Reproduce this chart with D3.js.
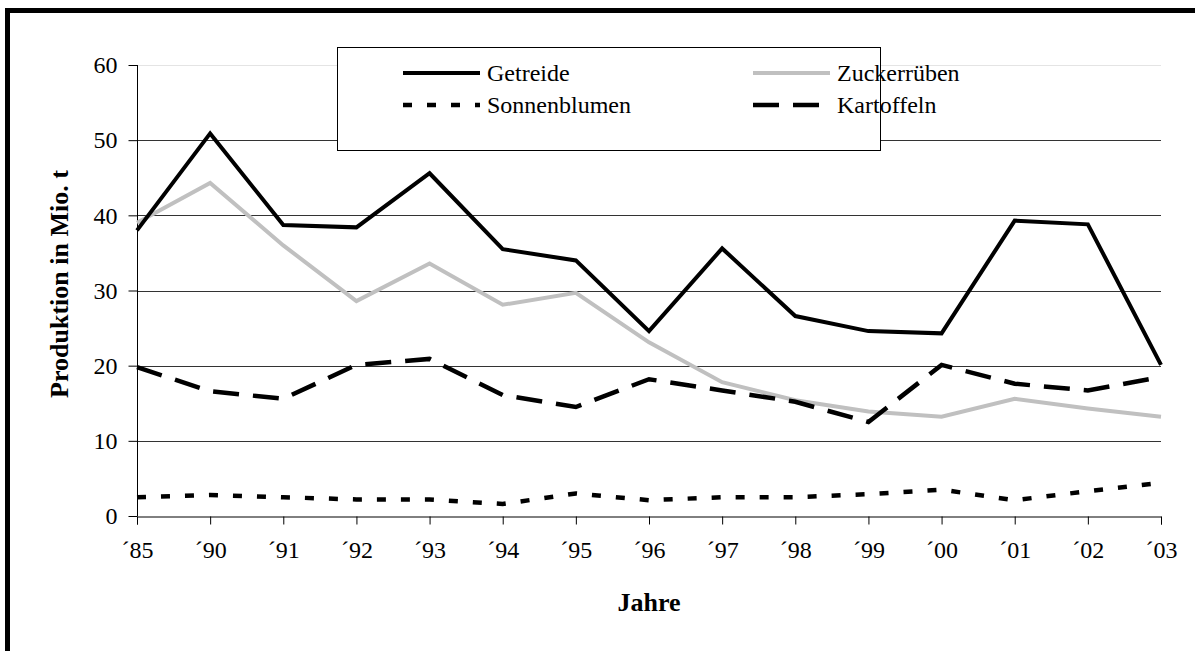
<!DOCTYPE html>
<html>
<head>
<meta charset="utf-8">
<script src="https://cdn.jsdelivr.net/npm/d3@7"></script>
<style>
  body { margin: 0; background: #fff; }
  svg { display: block; font-family: "Liberation Serif", "Times New Roman", serif; }
</style>
</head>
<body>
<div id="chart"></div>
<script>
// Jahre und Produktion (Mio. t)
var years = ["´85", "´90", "´91", "´92", "´93", "´94", "´95", "´96", "´97", "´98", "´99", "´00", "´01", "´02", "´03"];
var getreide = [38.0, 50.9, 38.7, 38.4, 45.6, 35.5, 34.0, 24.6, 35.6, 26.6, 24.6, 24.3, 39.3, 38.8, 20.1];
var zuckerrueben = [39.0, 44.3, 36.0, 28.6, 33.6, 28.1, 29.7, 23.1, 17.8, 15.4, 13.9, 13.2, 15.6, 14.3, 13.2];
var sonnenblumen = [2.5, 2.8, 2.5, 2.2, 2.2, 1.6, 3.0, 2.1, 2.5, 2.5, 2.9, 3.5, 2.1, 3.3, 4.4];
var kartoffeln = [19.8, 16.6, 15.6, 20.1, 20.9, 16.1, 14.5, 18.2, 16.7, 15.2, 12.5, 20.1, 17.6, 16.7, 18.5];
var yTicks = [0, 10, 20, 30, 40, 50, 60];

var width = 1195, height = 651;
var margin = {left: 137, right: 34, top: 65, bottom: 135};

var svg = d3.select("#chart").append("svg")
    .attr("width", width)
    .attr("height", height);

// outer frame
svg.append("rect")
    .attr("x", 7.5).attr("y", 10.5)
    .attr("width", 1200).attr("height", 700)
    .attr("fill", "none").attr("stroke", "#000").attr("stroke-width", 5);

var x = d3.scalePoint().domain(years).range([margin.left, width - margin.right]);
var y = d3.scaleLinear().domain([0, 60]).range([height - margin.bottom, margin.top]);

// gridlines
svg.append("g").selectAll("line")
    .data(yTicks.filter(function(d) { return d > 0; }))
    .join("line")
    .attr("x1", margin.left).attr("x2", width - margin.right)
    .attr("y1", function(d) { return Math.round(y(d)) + 0.5; })
    .attr("y2", function(d) { return Math.round(y(d)) + 0.5; })
    .attr("stroke", function(d) { return d === 60 ? "#e4e4e4" : "#333"; })
    .attr("stroke-width", 1);

// axes
var yAxis = svg.append("g")
    .attr("transform", "translate(" + (margin.left + 0.5) + ",0)")
    .call(d3.axisLeft(y).tickValues(yTicks).tickSize(9).tickPadding(11));
var xAxis = svg.append("g")
    .attr("transform", "translate(0," + (Math.round(y(0)) + 0.5) + ")")
    .call(d3.axisBottom(x).tickSize(8).tickPadding(16));

[yAxis, xAxis].forEach(function(a) {
  a.attr("font-family", null).attr("font-size", null);
  a.select(".domain").attr("stroke", "#000");
  a.selectAll(".tick line").attr("stroke", "#000");
  a.selectAll("text").attr("fill", "#000")
    .style("font-family", "Liberation Serif").style("font-size", "24px");
});
yAxis.select(".domain").attr("d", "M0," + y(60) + "V" + y(0));

// series
var series = [
  {name: "Getreide", values: getreide, color: "#000", width: 4, dash: null},
  {name: "Zuckerrüben", values: zuckerrueben, color: "#c0c0c0", width: 4, dash: null},
  {name: "Sonnenblumen", values: sonnenblumen, color: "#000", width: 4.5, dash: "9,15"},
  {name: "Kartoffeln", values: kartoffeln, color: "#000", width: 4.5, dash: "26,14"}
];

var line = d3.line()
    .x(function(d, i) { return x(years[i]); })
    .y(function(d) { return y(d); });

svg.append("g").selectAll("path")
    .data([series[1], series[3], series[2], series[0]])
    .join("path")
    .attr("d", function(s) { return line(s.values); })
    .attr("fill", "none")
    .attr("stroke", function(s) { return s.color; })
    .attr("stroke-width", function(s) { return s.width; })
    .attr("stroke-dasharray", function(s) { return s.dash; })
    .attr("stroke-linejoin", "miter");

// legend
var legend = svg.append("g");
legend.append("rect")
    .attr("x", 337.5).attr("y", 47.5)
    .attr("width", 543).attr("height", 103)
    .attr("fill", "#fff").attr("stroke", "#000").attr("stroke-width", 1);

var legendPos = [
  {s: series[0], lx: 403, ty: 73},
  {s: series[1], lx: 753, ty: 73},
  {s: series[2], lx: 403, ty: 105},
  {s: series[3], lx: 753, ty: 105}
];
legendPos.forEach(function(p) {
  legend.append("line")
      .attr("x1", p.lx).attr("x2", p.lx + 77)
      .attr("y1", p.ty).attr("y2", p.ty)
      .attr("stroke", p.s.color)
      .attr("stroke-width", p.s.width)
      .attr("stroke-dasharray", p.s.dash);
  legend.append("text")
      .attr("x", p.lx + 84).attr("y", p.ty + 8)
      .style("font-size", "24px")
      .text(p.s.name);
});

// axis titles
svg.append("text")
    .attr("transform", "translate(68,284) rotate(-90)")
    .attr("text-anchor", "middle")
    .style("font-size", "26px").style("font-weight", "bold")
    .text("Produktion in Mio. t");

svg.append("text")
    .attr("x", 649).attr("y", 611)
    .attr("text-anchor", "middle")
    .style("font-size", "26px").style("font-weight", "bold")
    .text("Jahre");
</script>
</body>
</html>
